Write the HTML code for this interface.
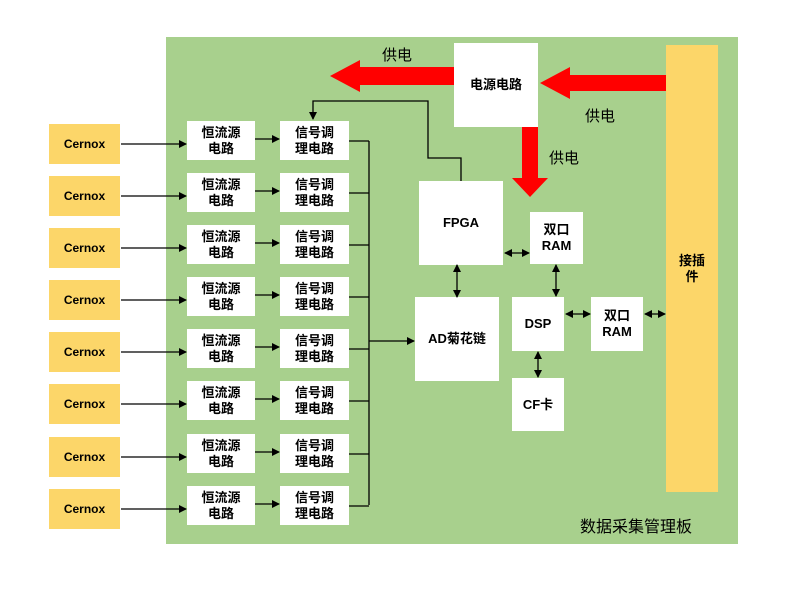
<!DOCTYPE html>
<html><head><meta charset="utf-8"><style>
body{margin:0;width:800px;height:608px;background:#fff;position:relative;overflow:hidden;font-family:"Liberation Sans","Noto Sans CJK SC",sans-serif}
div.b{position:absolute;display:flex;align-items:center;justify-content:center;text-align:center;font-weight:bold;font-size:13px;line-height:16px;color:#000}
.w{background:#fff}
.y{background:#fcd669;font-size:12px!important}
.t{position:absolute;font-size:15px;color:#000}
</style></head><body>
<div style="position:absolute;left:166px;top:37px;width:572px;height:507px;background:#a8d08d"></div>
<div class="b" style="left:666px;top:45px;width:52px;height:447px;background:#fcd669">接插<br>件</div>
<div class="b w" style="left:454px;top:43px;width:84px;height:84px">电源电路</div>
<div class="b w" style="left:419px;top:181px;width:84px;height:84px">FPGA</div>
<div class="b w" style="left:530px;top:212px;width:53px;height:52px">双口<br>RAM</div>
<div class="b w" style="left:415px;top:297px;width:84px;height:84px">AD菊花链</div>
<div class="b w" style="left:512px;top:297px;width:52px;height:54px">DSP</div>
<div class="b w" style="left:591px;top:297px;width:52px;height:54px">双口<br>RAM</div>
<div class="b w" style="left:512px;top:378px;width:52px;height:53px">CF卡</div>
<div class="t" style="left:382px;top:44px">供电</div>
<div class="t" style="left:585px;top:105px">供电</div>
<div class="t" style="left:549px;top:147px">供电</div>
<div class="t" style="left:580px;top:513px;font-size:16px">数据采集管理板</div>
<div id="rows"></div>
<svg width="800" height="608" style="position:absolute;left:0;top:0">
<defs><marker id="a" markerWidth="8" markerHeight="8" refX="7" refY="4" orient="auto" markerUnits="userSpaceOnUse"><path d="M0,0L8,4L0,8z" fill="#000"/></marker>
<marker id="s" markerWidth="8" markerHeight="8" refX="1" refY="4" orient="auto" markerUnits="userSpaceOnUse"><path d="M8,0L0,4L8,8z" fill="#000"/></marker></defs>
<polygon points="454,67 360,67 360,60 330,76 360,92 360,85 454,85" fill="#f00"/>
<polygon points="666,75 570,75 570,67 540,83 570,99 570,91 666,91" fill="#f00"/>
<polygon points="522,127 538,127 538,178 548,178 530,197 512,178 522,178" fill="#f00"/>
<g stroke="#000" stroke-width="1.3" fill="none">
<polyline points="461,181 461,158 428,158 428,101 313,101 313,119" marker-end="url(#a)"/>
<line x1="457" y1="265" x2="457" y2="297" marker-start="url(#s)" marker-end="url(#a)"/>
<line x1="505" y1="253" x2="529" y2="253" marker-start="url(#s)" marker-end="url(#a)"/>
<line x1="556" y1="265" x2="556" y2="296" marker-start="url(#s)" marker-end="url(#a)"/>
<line x1="566" y1="314" x2="590" y2="314" marker-start="url(#s)" marker-end="url(#a)"/>
<line x1="645" y1="314" x2="665" y2="314" marker-start="url(#s)" marker-end="url(#a)"/>
<line x1="538" y1="352" x2="538" y2="377" marker-start="url(#s)" marker-end="url(#a)"/>
<line x1="369" y1="141" x2="369" y2="505"/>
<line x1="369" y1="341" x2="414" y2="341" marker-end="url(#a)"/>
</g>
<g id="g" stroke="#000" stroke-width="1.3" fill="none"></g>
</svg>
<script>
var r=document.getElementById('rows'),g=document.getElementById('g'),h='',s='';
for(var i=0;i<8;i++){var c=[140,192,244,296,348,400,453,505][i];
h+='<div class="b y" style="left:49px;top:'+(c-16)+'px;width:71px;height:40px">Cernox</div>';
h+='<div class="b w" style="left:187px;top:'+(c-19)+'px;width:68px;height:39px">恒流源<br>电路</div>';
h+='<div class="b w" style="left:280px;top:'+(c-19)+'px;width:69px;height:39px">信号调<br>理电路</div>';
s+='<line x1="121" y1="'+(c+4)+'" x2="186" y2="'+(c+4)+'" marker-end="url(#a)"/>';
s+='<line x1="255" y1="'+(c-1)+'" x2="279" y2="'+(c-1)+'" marker-end="url(#a)"/>';
s+='<line x1="349" y1="'+(c+1)+'" x2="369" y2="'+(c+1)+'"/>';}
r.innerHTML=h;g.innerHTML=s;
</script>
</body></html>
